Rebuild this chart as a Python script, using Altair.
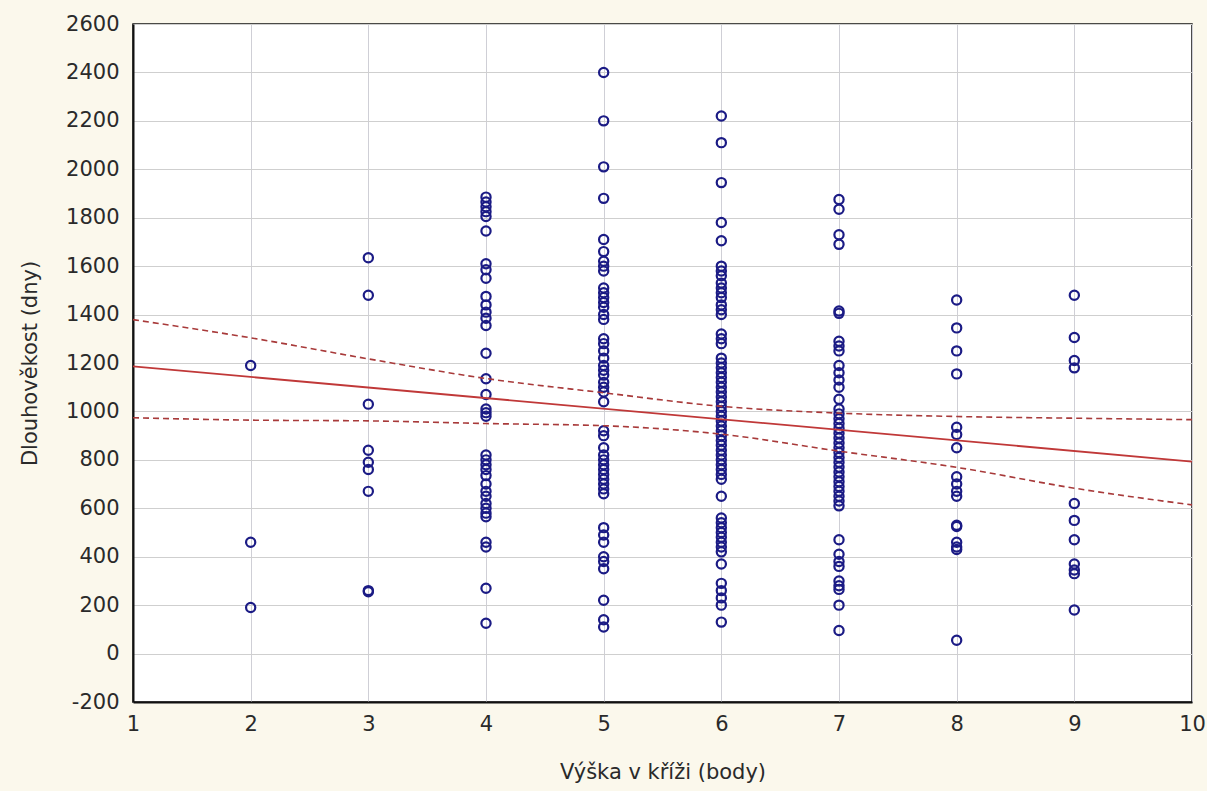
import altair as alt
import pandas as pd

# --- data ---
x2 = [1190, 460, 190]
x3 = [1635, 1480, 1030, 840, 790, 760, 670, 260, 255]
x4 = [1885, 1865, 1845, 1825, 1805, 1745, 1610, 1585, 1550, 1475, 1440, 1410,
      1385, 1355, 1240, 1135, 1070, 1010, 995, 980, 820, 800, 780, 760, 735,
      700, 670, 650, 620, 600, 580, 565, 460, 440, 270, 125]
x5 = [2400, 2200, 2010, 1880, 1710, 1660, 1620, 1600, 1580, 1510, 1490, 1470,
      1450, 1430, 1400, 1380, 1300, 1280, 1250, 1220, 1190, 1170, 1150, 1120,
      1100, 1080, 1040, 920, 900, 850, 820, 800, 780, 760, 740, 720, 700, 680,
      660, 520, 490, 460, 400, 380, 350, 220, 140, 110]
x6 = [2220, 2110, 1945, 1780, 1705, 1600, 1580, 1560, 1530, 1510, 1490, 1470,
      1440, 1420, 1400, 1320, 1300, 1280, 1220, 1200, 1180, 1160, 1140, 1120,
      1100, 1080, 1060, 1040, 1020, 1000, 980, 960, 940, 920, 900, 880, 860,
      840, 820, 800, 780, 760, 740, 720, 650, 560, 540, 520, 500, 480, 460,
      440, 420, 370, 290, 260, 230, 200, 130]
x7 = [1875, 1835, 1730, 1690, 1415, 1405, 1290, 1270, 1250, 1190, 1160, 1130,
      1100, 1050, 1010, 990, 970, 950, 930, 910, 890, 870, 850, 830, 810, 790,
      770, 750, 730, 710, 690, 670, 650, 630, 610, 470, 410, 380, 360, 300,
      280, 265, 200, 95]
x8 = [1460, 1345, 1250, 1155, 935, 905, 850, 730, 700, 670, 650, 530, 525,
      460, 440, 430, 55]
x9 = [1480, 1305, 1210, 1180, 620, 550, 470, 370, 345, 330, 180]

columns = {2: x2, 3: x3, 4: x4, 5: x5, 6: x6, 7: x7, 8: x8, 9: x9}

fit_x = [1, 10]
fit_y = [1186, 793]

band_x = [1, 2, 3, 4, 5, 6, 7, 8, 9, 10]
band_upper = [1379, 1304, 1217, 1136, 1077, 1021, 993, 979, 972, 966]
band_lower = [974, 964, 961, 950, 941, 906, 836, 769, 683, 614]

x_ticks = [1, 2, 3, 4, 5, 6, 7, 8, 9, 10]
y_ticks = list(range(-200, 2601, 200))

pts = pd.DataFrame(
    [{"x": k, "y": v} for k, vals in columns.items() for v in vals]
)
fit = pd.DataFrame({"x": fit_x, "y": fit_y})
bands = pd.DataFrame(
    [{"x": a, "y": u, "band": "upper"} for a, u in zip(band_x, band_upper)]
    + [{"x": a, "y": l, "band": "lower"} for a, l in zip(band_x, band_lower)]
)

xs = alt.Scale(domain=[1, 10], nice=False, zero=False)
ys = alt.Scale(domain=[-200, 2600], nice=False, zero=False)

x_axis = alt.Axis(
    values=x_ticks, title="Výška v kříži (body)", ticks=False,
    labelExpr="'' + datum.value",
    labelPadding=11, labelFontSize=21, titleFontSize=21,
    titleFontWeight="normal", titleY=70, titleBaseline="middle",
    grid=True, gridColor="#cfcfd6", domainColor="#111", domainWidth=2,
    labelFlush=False,
)
y_axis = alt.Axis(
    values=y_ticks, title="Dlouhověkost (dny)", ticks=False,
    labelExpr="'' + datum.value",
    labelPadding=14, labelFontSize=21, titleFontSize=21,
    titleFontWeight="normal", titleX=-103, titleY=339,
    titleBaseline="middle", titleAlign="center",
    grid=True, gridColor="#cfcfcf", domainColor="#111", domainWidth=2,
)

points = alt.Chart(pts).mark_point(
    shape="circle", filled=False, size=85, strokeWidth=2.2, color="#1b1b85",
    opacity=1,
).encode(
    x=alt.X("x:Q", scale=xs, axis=x_axis),
    y=alt.Y("y:Q", scale=ys, axis=y_axis),
)

band_lines = alt.Chart(bands).mark_line(
    color="#a83a3a", strokeWidth=1.6, strokeDash=[6, 4], interpolate="monotone"
).encode(
    x=alt.X("x:Q", scale=xs),
    y=alt.Y("y:Q", scale=ys),
    detail="band:N",
)

fit_line = alt.Chart(fit).mark_line(color="#c03838", strokeWidth=1.8).encode(
    x=alt.X("x:Q", scale=xs),
    y=alt.Y("y:Q", scale=ys),
)

chart = alt.layer(points, band_lines, fit_line).properties(
    width=1059, height=678,
    autosize=alt.AutoSizeParams(type="none"),
    padding={"left": 133, "top": 24, "right": 15, "bottom": 89},
    background="#fbf8ec",
).configure_view(
    fill="white", stroke="#111", strokeWidth=1.5
).configure_axis(
    labelFont="DejaVu Sans", titleFont="DejaVu Sans",
    labelColor="#2a2a2a", titleColor="#2a2a2a",
)

chart.save("out.html", embed_options={"renderer": "svg", "actions": False})
